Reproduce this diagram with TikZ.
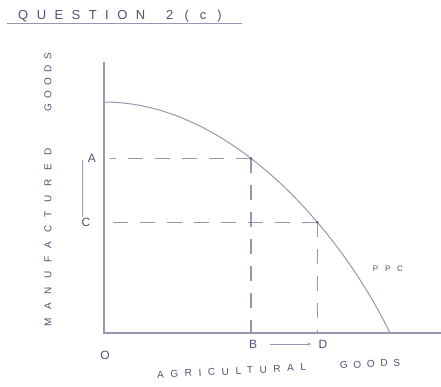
\documentclass[tikz,border=0pt]{standalone}
\usepackage{fontspec}
\setmainfont{Liberation Sans}
\usetikzlibrary{calc,arrows.meta}
\definecolor{ink}{RGB}{150,150,178}
\definecolor{txt}{RGB}{80,80,115}
\begin{document}
\begin{tikzpicture}[x=1pt,y=-1pt,
  axis/.style={draw=ink,line width=1.2pt},
  dashline/.style={draw=ink,line width=1.1pt,dash pattern=on 15pt off 12pt},
  lbl/.style={text=txt,inner sep=0pt,font=\fontsize{10}{12}\selectfont},
  dot/.style={circle,fill=txt,inner sep=0pt,minimum size=2.5pt}]
\useasboundingbox (0,0) rectangle (441,387);
% title
\node[lbl,anchor=west,font=\fontsize{13}{15}\selectfont] (title) at (18,16)
  {{\addfontfeature{LetterSpace=65}QUESTION}\hspace{21pt}{\addfontfeature{LetterSpace=85}2(c)}};
\coordinate (ul1) at (7,23); \coordinate (ul2) at (242,23);
\draw[ink,line width=0.9pt] (ul1) -- (ul2);
% axes
\coordinate (O) at (104,333); \coordinate (ytop) at (104,62); \coordinate (xend) at (441,333);
\draw[axis] (ytop) -- (O) -- (xend);
% PPC curve
\coordinate (p0) at (104,102); \coordinate (p3) at (390,333);
\draw[axis,line width=1pt] (p0) .. controls (230,102) and (340,230) .. (p3)
  coordinate[pos=0.42] (pA) coordinate[pos=0.65] (pC);
% dashed lines
\draw[dashline] (pA) -- ($(O|-pA)+(6,0)$);
\draw[dashline] (pA) -- (pA|-O);
\draw[dashline] (pC) -- ($(O|-pC)+(6,0)$);
\draw[dashline] (pC) -- (pC|-O);
\node[dot] (dA) at (pA) {};
\node[dot] (dC) at (pC) {};
% labels
\node[lbl,font=\fontsize{12}{14}\selectfont] (lA) at (92,158) {A};
\node[lbl,font=\fontsize{12}{14}\selectfont] (lC) at (86,222) {C};
\coordinate (v1) at (82,160); \coordinate (v2) at (82,217);
\draw[ink,line width=0.5pt] (v1) -- (v2);
\node[lbl,font=\fontsize{12}{14}\selectfont] (lB) at (253,344) {B};
\node[lbl,font=\fontsize{12}{14}\selectfont] (lD) at (323,344) {D};
\draw[ink,line width=0.8pt,-{Stealth[length=4pt]},shorten <=13pt,shorten >=7pt] (lB) -- (lD);
\node[lbl,font=\fontsize{12}{14}\selectfont] (lO) at (105,355) {O};
\node[lbl,font=\fontsize{8}{10}\selectfont\addfontfeature{LetterSpace=85}] (ppc) at (388,269) {PPC};
% axis titles
\node[lbl,anchor=west,rotate=90] (ylab) at (48,327)
  {{\addfontfeature{LetterSpace=87}MANUFACTURED}\hspace{36pt}{\addfontfeature{LetterSpace=54}GOODS}};
\node[lbl,anchor=west,rotate=3] (xlab) at (157,375)
  {{\addfontfeature{LetterSpace=66}AGRICULTURAL}\hspace{34pt}{\addfontfeature{LetterSpace=57}GOODS}};
\end{tikzpicture}
\end{document}
